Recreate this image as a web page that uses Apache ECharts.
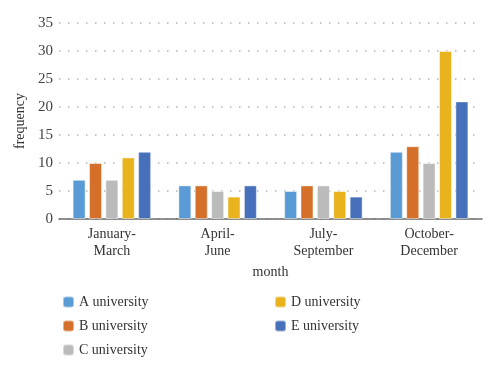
<!DOCTYPE html>
<html><head><meta charset="utf-8">
<script src="https://cdn.jsdelivr.net/npm/echarts@6/dist/echarts.min.js"></script>
<style>html,body{margin:0;padding:0;background:#fff}#c{width:500px;height:374px}</style>
</head><body><div id="c"></div>
<script>
const categories = ['January-\nMarch', 'April-\nJune', 'July-\nSeptember', 'October-\nDecember'];
const seriesNames = ['A university', 'B university', 'C university', 'D university', 'E university'];
const aValues = [7, 6, 5, 12];
const bValues = [10, 6, 6, 13];
const cValues = [7, 5, 6, 10];
const dValues = [11, 4, 5, 30];
const eValues = [12, 6, 4, 21];
const yTicks = [0, 5, 10, 15, 20, 25, 30, 35];
const colors = ['#5B9BD5', '#D4702A', '#BBBBBB', '#E9B31E', '#4770BA'];
const allValues = [aValues, bValues, cValues, dValues, eValues];
const font = 'Liberation Serif';
const chart = echarts.init(document.getElementById('c'));
chart.setOption({
  animation: false,
  textStyle: {fontFamily: font},
  grid: {left: 59, right: 18, top: 23, bottom: 155},
  legend: [
    {data: seriesNames.slice(0, 3), orient: 'vertical', left: 57, top: 290, itemWidth: 11, itemHeight: 11, itemGap: 10,
     textStyle: {fontFamily: font, fontSize: 14, color: '#333'}},
    {data: seriesNames.slice(3), orient: 'vertical', left: 269, top: 290, itemWidth: 11, itemHeight: 11, itemGap: 10,
     textStyle: {fontFamily: font, fontSize: 14, color: '#333'}}
  ],
  xAxis: {
    type: 'category', data: categories,
    name: 'month', nameLocation: 'middle', nameGap: 43,
    nameTextStyle: {fontFamily: font, fontSize: 14, color: '#333'},
    axisLine: {lineStyle: {color: '#6b6b6b', width: 1.5}},
    axisTick: {show: false},
    axisLabel: {fontFamily: font, fontSize: 14, color: '#333', lineHeight: 17, margin: 7, interval: 0}
  },
  yAxis: {
    type: 'value', min: yTicks[0], max: yTicks[yTicks.length - 1], interval: 5,
    name: 'frequency', nameLocation: 'middle', nameGap: 28, nameRotate: 90,
    nameTextStyle: {fontFamily: font, fontSize: 14, color: '#333'},
    axisLine: {show: false}, axisTick: {show: false},
    axisLabel: {fontFamily: font, fontSize: 15, color: '#444', margin: 6},
    splitLine: {lineStyle: {color: '#b5b5b5', type: [1.5, 7.5], width: 1.5}}
  },
  series: seriesNames.map((n, i) => ({
    name: n, type: 'bar', data: allValues[i],
    barWidth: 13, barGap: '26%',
    itemStyle: {color: colors[i], borderColor: 'rgba(255,255,255,0.45)', borderWidth: 1}
  }))
});
</script></body></html>
